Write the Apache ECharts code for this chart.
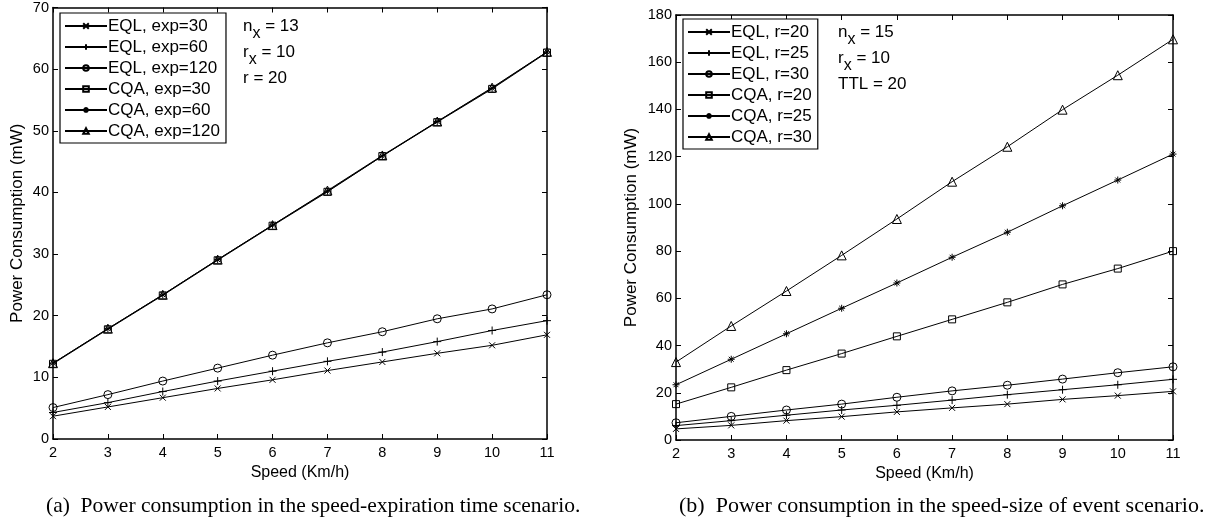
<!DOCTYPE html>
<html><head><meta charset="utf-8">
<script src="https://cdn.jsdelivr.net/npm/echarts@6/dist/echarts.min.js"></script>
<style>html,body{margin:0;padding:0;background:#fff}#c{width:1228px;height:522px}</style>
</head><body><div id="c"></div>
<script>
// ---- data ----
const speeds = [2, 3, 4, 5, 6, 7, 8, 9, 10, 11];
// (a) speed-expiration time scenario
const aNames = ['EQL, exp=30', 'EQL, exp=60', 'EQL, exp=120', 'CQA, exp=30', 'CQA, exp=60', 'CQA, exp=120'];
const aEqlExp30  = [3.7, 5.2, 6.7, 8.2, 9.6, 11.1, 12.5, 13.9, 15.2, 16.9];
const aEqlExp60  = [4.3, 5.9, 7.7, 9.4, 11.0, 12.6, 14.1, 15.8, 17.6, 19.2];
const aEqlExp120 = [5.1, 7.2, 9.4, 11.5, 13.6, 15.6, 17.4, 19.5, 21.1, 23.4];
const aCqaExp30  = [12.2, 17.8, 23.3, 29.0, 34.6, 40.1, 45.9, 51.4, 56.8, 62.7];
const aCqaExp60  = [12.3, 17.9, 23.4, 29.1, 34.7, 40.2, 45.9, 51.5, 56.9, 62.8];
const aCqaExp120 = [12.3, 17.9, 23.4, 29.1, 34.7, 40.3, 46.0, 51.5, 57.0, 62.8];
// (b) speed-size of event scenario
const bNames = ['EQL, r=20', 'EQL, r=25', 'EQL, r=30', 'CQA, r=20', 'CQA, r=25', 'CQA, r=30'];
const bEqlR20 = [4.7, 6.2, 8.2, 9.9, 11.9, 13.6, 15.2, 17.2, 18.8, 20.6];
const bEqlR25 = [6.1, 8.2, 10.5, 12.7, 14.7, 16.9, 19.2, 21.3, 23.4, 25.7];
const bEqlR30 = [7.3, 10.0, 12.7, 15.2, 18.1, 20.8, 23.2, 25.8, 28.5, 31.0];
const bCqaR20 = [15.2, 22.3, 29.6, 36.6, 43.9, 51.1, 58.3, 65.9, 72.6, 80.0];
const bCqaR25 = [23.4, 34.2, 45.0, 55.8, 66.5, 77.4, 88.0, 99.2, 110.1, 121.1];
const bCqaR30 = [33.0, 48.3, 63.1, 78.2, 93.6, 109.4, 124.2, 139.9, 154.5, 169.7];
// axis ticks
const xTicks = {min: 2, max: 11, interval: 1};
const aYTicks = {min: 0, max: 70, interval: 10};
const bYTicks = {min: 0, max: 180, interval: 20};
// texts
const xTitle = 'Speed (Km/h)';
const yTitle = 'Power Consumption (mW)';
const captionA = '(a)  Power consumption in the speed-expiration time scenario.';
const captionB = '(b)  Power consumption in the speed-size of event scenario.';

// ---- styling ----
const SYM_X = 'path://M0,0L10,10M10,0L0,10';
const SYM_PLUS = 'path://M5,0L5,10M0,5L10,5';
const SYM_STAR = 'path://M5,0L5,10M0,5L10,5M1.5,1.5L8.5,8.5M8.5,1.5L1.5,8.5';
const markers = [
  {symbol: SYM_X, size: 6},
  {symbol: SYM_PLUS, size: 8},
  {symbol: 'circle', size: 8},
  {symbol: 'rect', size: 7},
  {symbol: SYM_STAR, size: 7},
  {symbol: 'triangle', size: 9}
];
const FONT = 'Liberation Sans, Arial, sans-serif';

function mkSeries(name, vals, idx, axisIdx) {
  const m = markers[idx];
  return {
    name: name, type: 'line', xAxisIndex: axisIdx, yAxisIndex: axisIdx,
    data: speeds.map((s, i) => [s, vals[i]]),
    symbol: m.symbol, symbolSize: m.size, showSymbol: true,
    lineStyle: {color: '#000', width: 1},
    itemStyle: {color: 'rgba(255,255,255,0)', borderColor: '#000', borderWidth: 1},
    emphasis: {disabled: true}, animation: false, silent: true
  };
}

function xAx(grid, pos) {
  return {
    type: 'value', gridIndex: grid, position: pos, min: xTicks.min, max: xTicks.max, interval: xTicks.interval,
    axisLine: {show: true, onZero: false, lineStyle: {color: '#000', width: 1.5}},
    axisTick: {show: true, inside: true, length: 5, lineStyle: {color: '#000'}},
    axisLabel: {show: pos === 'bottom', color: '#000', fontSize: 14.5, fontFamily: FONT, margin: 6},
    splitLine: {show: false},
    name: pos === 'bottom' ? xTitle : '', nameLocation: 'middle', nameGap: 26,
    nameTextStyle: {color: '#000', fontSize: 16, fontFamily: FONT}
  };
}
function yAx(grid, pos, t) {
  return {
    type: 'value', gridIndex: grid, position: pos, min: t.min, max: t.max, interval: t.interval,
    axisLine: {show: true, onZero: false, lineStyle: {color: '#000', width: 1.5}},
    axisTick: {show: true, inside: true, length: 5, lineStyle: {color: '#000'}},
    axisLabel: {show: pos === 'left', color: '#000', fontSize: 14.5, fontFamily: FONT, margin: 4},
    splitLine: {show: false},
    name: pos === 'left' ? yTitle : '', nameLocation: 'middle', nameGap: grid === 0 ? 27 : 36,
    nameRotate: 90,
    nameTextStyle: {color: '#000', fontSize: 17, fontFamily: FONT}
  };
}

const aData = [aEqlExp30, aEqlExp60, aEqlExp120, aCqaExp30, aCqaExp60, aCqaExp120];
const bData = [bEqlR20, bEqlR25, bEqlR30, bCqaR20, bCqaR25, bCqaR30];
const series = [];
aNames.forEach((n, i) => series.push(mkSeries(n, aData[i], i, 0)));
bNames.forEach((n, i) => series.push(mkSeries(n, bData[i], i, 1)));

function legend(names, left, top) {
  return {
    data: names, orient: 'vertical', left: left, top: top,
    backgroundColor: '#fff', borderColor: '#000', borderWidth: 1.2, borderRadius: 0,
    padding: [4, 6, 3, 4], itemGap: 3, itemWidth: 42, itemHeight: 7,
    textStyle: {color: '#000', fontSize: 17, fontFamily: FONT, lineHeight: 18, padding: [0, 0, 0, -4]},
    selectedMode: false, inactiveColor: '#000'
  };
}

function annot(x, y, gap, lines) {
  return lines.map((l, i) => ({
    type: 'text', left: x, top: y + i * gap, z: 100,
    style: {
      text: l.sub ? '{m|' + l.a + '}{s|x}{m|' + l.b + '}' : '{m|' + l.a + '}',
      rich: {
        m: {fontSize: 17, fontFamily: FONT, fill: '#000'},
        s: {fontSize: 16, fontFamily: FONT, fill: '#000', padding: [15, 0, 0, 0]}
      }
    }
  }));
}

const chart = echarts.init(document.getElementById('c'), null, {renderer: 'canvas'});
chart.setOption({
  backgroundColor: '#fff',
  animation: false,
  grid: [
    {left: 53, right: 681, top: 7, bottom: 83},
    {left: 676, right: 55, top: 15, bottom: 82}
  ],
  xAxis: [xAx(0, 'bottom'), xAx(1, 'bottom'), xAx(0, 'top'), xAx(1, 'top')],
  yAxis: [yAx(0, 'left', aYTicks), yAx(1, 'left', bYTicks), yAx(0, 'right', aYTicks), yAx(1, 'right', bYTicks)],
  legend: [legend(aNames, 60, 13), legend(bNames, 683, 19)],
  series: series,
  graphic: [
    ...annot(243, 18, 26, [{sub: true, a: 'n', b: ' = 13'}, {sub: true, a: 'r', b: ' = 10'}, {sub: false, a: 'r = 20'}]),
    ...annot(838, 24, 26, [{sub: true, a: 'n', b: ' = 15'}, {sub: true, a: 'r', b: ' = 10'}, {sub: false, a: 'TTL = 20'}]),
    {type: 'text', left: 46, top: 495, style: {text: captionA, font: '21.5px "Liberation Serif", "Times New Roman", serif', fill: '#000'}},
    {type: 'text', left: 679, top: 495, style: {text: captionB, font: '22px "Liberation Serif", "Times New Roman", serif', fill: '#000'}}
  ]
});
</script>
</body></html>
